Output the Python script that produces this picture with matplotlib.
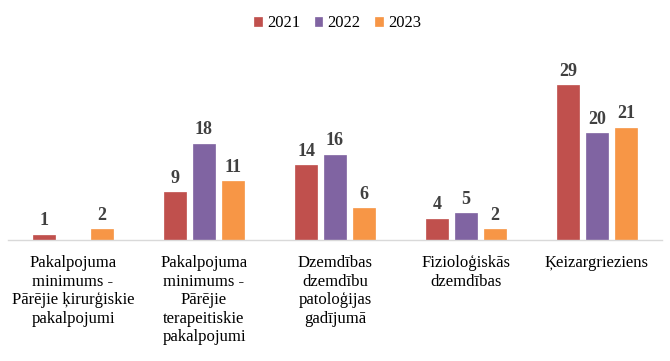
import matplotlib
matplotlib.use("Agg")
import matplotlib.pyplot as plt
import numpy as np

categories = [
    "Pakalpojuma\nminimums -\nPārējie ķirurģiskie\npakalpojumi",
    "Pakalpojuma\nminimums -\nPārējie\nterapeitiskie\npakalpojumi",
    "Dzemdības\ndzemdību\npatoloģijas\ngadījumā",
    "Fizioloģiskās\ndzemdības",
    "Ķeizargrieziens",
]
series_names = ["2021", "2022", "2023"]
v2021 = [1, 9, 14, 4, 29]
v2022 = [np.nan, 18, 16, 5, 20]
v2023 = [2, 11, 6, 2, 21]
colors = ["#C0504D", "#8064A2", "#F79646"]

plt.rcParams["font.family"] = ["Liberation Serif", "DejaVu Serif"]

fig = plt.figure(figsize=(6.7, 3.61), dpi=100)
ax = fig.add_axes([0.0112, 0.335, 0.9776, 0.526])

x = np.arange(len(categories))
width = 0.168
step = 0.221
for i, (vals, name, c) in enumerate(zip([v2021, v2022, v2023], series_names, colors)):
    pos = x + (i - 1) * step
    vals_arr = np.array(vals, dtype=float)
    ax.bar(pos, np.nan_to_num(vals_arr), width, color=c, label=name,
           edgecolor=c, linewidth=0.5)
    for p, v in zip(pos, vals_arr):
        if not np.isnan(v):
            ax.annotate(f"{int(v)}", (p, v), xytext=(0, 4), textcoords="offset points",
                        ha="center", va="bottom", fontsize=13, fontweight="bold",
                        color="#404040")

ax.set_xlim(-0.5, len(categories) - 0.5)
ax.set_ylim(0, 35.6)
for s in ["top", "right", "left"]:
    ax.spines[s].set_visible(False)
ax.spines["bottom"].set_color("#D9D9D9")
ax.spines["bottom"].set_linewidth(1)
ax.set_yticks([])
ax.set_xticks(x)
ax.set_xticklabels(categories, fontsize=12, linespacing=1.2, color="#000000")
ax.tick_params(axis="x", length=0, pad=11)

fig.legend(loc="upper center", bbox_to_anchor=(0.504, 1.0), ncol=3, frameon=False,
           fontsize=12, handlelength=0.45, handleheight=0.45, handletextpad=0.3,
           columnspacing=0.9)

fig.savefig("out.png", dpi=100)
